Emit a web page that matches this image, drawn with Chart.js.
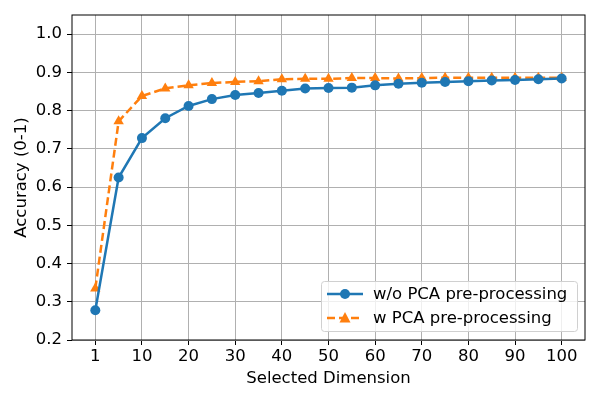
<!DOCTYPE html>
<html>
<head>
<meta charset="utf-8">
<script src="https://cdn.jsdelivr.net/npm/chart.js@4"></script>
<style>
  body { margin: 0; background: #fff; }
  #wrap { width: 600px; height: 400px; }
</style>
</head>
<body>
<div id="wrap"><canvas id="graph"></canvas></div>
<script>
// selected dimension (categories) and accuracy for both settings
var dims = [1, 5, 10, 15, 20, 25, 30, 35, 40, 45, 50, 55, 60, 65, 70, 75, 80, 85, 90, 95, 100];
var accNoPca = [0.278, 0.625, 0.728, 0.780, 0.812, 0.830, 0.841, 0.846, 0.852, 0.858, 0.859,
  0.860, 0.866, 0.870, 0.873, 0.875, 0.877, 0.879, 0.880, 0.882, 0.884];
var accPca = [0.335, 0.772, 0.838, 0.858, 0.866, 0.872, 0.875, 0.877, 0.882, 0.883, 0.883,
  0.885, 0.885, 0.884, 0.885, 0.886, 0.886, 0.886, 0.886, 0.886, 0.886];
var xTicks = [1, 10, 20, 30, 40, 50, 60, 70, 80, 90, 100];
var yTicks = [0.2, 0.3, 0.4, 0.5, 0.6, 0.7, 0.8, 0.9, 1.0];
var seriesNames = ["w/o PCA pre-processing", "w PCA pre-processing"];

var FONT = "'DejaVu Sans', sans-serif";
var FS = 16.5;

// points are placed at their category index (equal spacing)
function toPoints(ys) {
  var pts = [];
  for (var i = 0; i < ys.length; i++) {
    pts.push({ x: i, y: ys[i] });
  }
  return pts;
}

// frame around the plot + legend box in lower right
var framePlugin = {
  id: "frame",
  afterDraw: function (chart) {
    var ctx = chart.ctx;
    var a = chart.chartArea;
    ctx.save();
    ctx.strokeStyle = "#000";
    ctx.lineWidth = 1;
    ctx.strokeRect(a.left, a.top, a.right - a.left, a.bottom - a.top);

    // legend
    var bx = a.right - 264, by = a.bottom - 59, bw = 256, bh = 50;
    ctx.fillStyle = "rgba(255,255,255,0.8)";
    ctx.strokeStyle = "#d0d0d0";
    ctx.beginPath();
    ctx.roundRect(bx + 0.5, by + 0.5, bw, bh, 3);
    ctx.fill();
    ctx.stroke();

    ctx.font = FS + "px " + FONT;
    ctx.textBaseline = "middle";
    chart.data.datasets.forEach(function (ds, i) {
      var cy = by + 13 + i * 24;
      ctx.strokeStyle = ds.borderColor;
      ctx.lineWidth = ds.borderWidth;
      ctx.setLineDash(ds.borderDash || []);
      ctx.beginPath();
      ctx.moveTo(bx + 6, cy);
      ctx.lineTo(bx + 42, cy);
      ctx.stroke();
      ctx.setLineDash([]);
      ctx.fillStyle = ds.borderColor;
      ctx.beginPath();
      if (ds.pointStyle === "triangle") {
        ctx.moveTo(bx + 24, cy - 6);
        ctx.lineTo(bx + 29.5, cy + 4.5);
        ctx.lineTo(bx + 18.5, cy + 4.5);
        ctx.closePath();
      } else {
        ctx.arc(bx + 24, cy, 5, 0, Math.PI * 2);
      }
      ctx.fill();
      ctx.fillStyle = "#000";
      ctx.fillText(ds.label, bx + 52, cy + 1);
    });
    ctx.restore();
  }
};

var ctx = document.getElementById("graph").getContext("2d");
var chart = new Chart(ctx, {
  type: "line",
  data: {
    datasets: [
      {
        label: seriesNames[0],
        data: toPoints(accNoPca),
        borderColor: "#1f77b4",
        backgroundColor: "#1f77b4",
        borderWidth: 2.5,
        pointStyle: "circle",
        pointRadius: 5,
        pointHoverRadius: 5,
        pointBorderWidth: 0,
        tension: 0
      },
      {
        label: seriesNames[1],
        data: toPoints(accPca),
        borderColor: "#ff7f0e",
        backgroundColor: "#ff7f0e",
        borderWidth: 2.5,
        borderDash: [8, 4],
        pointStyle: "triangle",
        pointRadius: 6,
        pointHoverRadius: 6,
        pointBorderWidth: 0,
        tension: 0
      }
    ]
  },
  options: {
    responsive: true,
    maintainAspectRatio: false,
    animation: false,
    layout: {
      padding: { left: 0, right: 15, top: 15, bottom: 0 }
    },
    plugins: {
      legend: { display: false },
      tooltip: { enabled: false }
    },
    scales: {
      x: {
        type: "linear",
        min: -1,
        max: dims.length,
        afterBuildTicks: function (axis) {
          axis.ticks = xTicks.map(function (v) { return { value: dims.indexOf(v) }; });
        },
        afterFit: function (axis) { axis.height = 60; },
        ticks: {
          color: "#000",
          font: { family: FONT, size: FS },
          padding: 2,
          maxRotation: 0,
          autoSkip: false,
          callback: function (v) { return String(dims[v]); }
        },
        grid: {
          color: "#b0b0b0",
          lineWidth: 1,
          tickLength: 5,
          tickColor: "#000"
        },
        border: { display: false },
        title: {
          display: true,
          text: "Selected Dimension",
          color: "#000",
          font: { family: FONT, size: FS },
          padding: { top: 0, bottom: 11 }
        }
      },
      y: {
        min: 0.2,
        max: 1.05,
        afterBuildTicks: function (axis) {
          axis.ticks = yTicks.map(function (v) { return { value: v }; });
        },
        afterFit: function (axis) { axis.width = 72; },
        ticks: {
          color: "#000",
          font: { family: FONT, size: FS },
          padding: 5,
          callback: function (v) { return v.toFixed(1); }
        },
        grid: {
          color: "#b0b0b0",
          lineWidth: 1,
          tickLength: 5,
          tickColor: "#000"
        },
        border: { display: false },
        title: {
          display: true,
          text: "Accuracy (0-1)",
          color: "#000",
          font: { family: FONT, size: FS },
          padding: { top: 12, bottom: 0 }
        }
      }
    }
  },
  plugins: [framePlugin]
});
</script>
</body>
</html>
